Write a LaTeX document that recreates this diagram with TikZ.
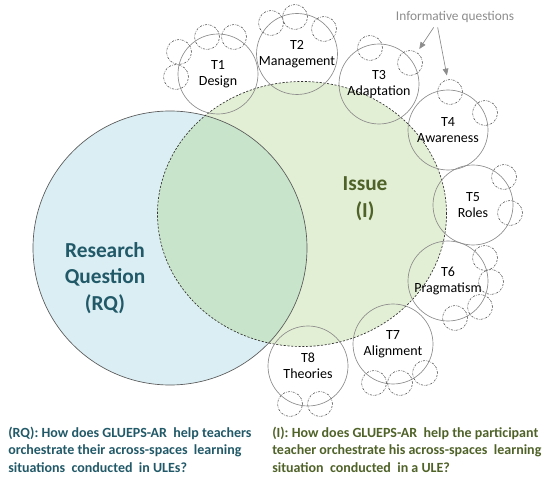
\documentclass[tikz,border=0pt]{standalone}
\usepackage{fontspec}
\setmainfont{Carlito}
\usetikzlibrary{arrows.meta,positioning,shapes.geometric}
\definecolor{rqfill}{HTML}{DAEEF3}
\definecolor{issuefill}{HTML}{E3EFD5}
\definecolor{bothfill}{HTML}{C8E4CA}
\definecolor{rqink}{HTML}{215968}
\definecolor{issueink}{HTML}{4F6228}
\definecolor{ringgray}{HTML}{8C8C8C}
\definecolor{dashgray}{HTML}{5A5A5A}
\definecolor{notegray}{HTML}{8C8C8C}
\tikzset{
  rqdisc/.style={circle,fill=rqfill,minimum size=205.5pt,inner sep=0pt},
  issuedisc/.style={ellipse,fill=issuefill,minimum width=216.75pt,
                    minimum height=198.75pt,inner sep=0pt},
  rqring/.style={circle,draw=black!65,line width=0.5pt,minimum size=205.5pt,
                 inner sep=0pt},
  issuering/.style={ellipse,draw=black!80,line width=0.5pt,
                    dash pattern=on 1.6pt off 1.2pt,minimum width=216.75pt,
                    minimum height=198.75pt,inner sep=0pt},
  biglabel/.style={align=center,font=\fontsize{16}{20}\selectfont\bfseries},
  topic/.style={circle,draw=ringgray,line width=0.5pt,minimum size=60pt,
                inner sep=0pt,align=center,
                font=\fontsize{10.5}{12}\selectfont},
  infoq/.style={circle,draw=dashgray,line width=0.45pt,minimum size=18.75pt,
                inner sep=0pt,dash pattern=on 1.5pt off 0.9pt on 0.4pt off 0.9pt},
  infoarr/.style={-{Triangle[length=1.8mm,width=1.5mm]},line width=0.5pt,
                  draw=notegray,shorten >=3pt},
  question/.style={anchor=north west,align=left,inner sep=0pt,
                   font=\fontsize{10.5}{12.9}\selectfont\bfseries}
}

\begin{document}
\begin{tikzpicture}[x=0.75pt,y=-0.75pt]
  \path[use as bounding box] (0,0) rectangle (542,477);
  % discs
  \node[rqdisc] (rq) at (170,248) {};
  \node[issuedisc] (issue) at (302,214) {};
  \begin{scope}
    \clip (rq.center) circle[radius=137];
    \fill[bothfill] (issue.center) ellipse[x radius=144.5,y radius=132.5];
  \end{scope}
  \node[rqring] (rqedge) at (rq) {};
  \node[issuering] (issueedge) at (issue) {};

  \node[biglabel,text=rqink] (rqlabel) at (105,278)
    {Research\\Question\\(RQ)};
  \node[biglabel,text=issueink] (issuelabel) at (365,199)
    {Issue\\(I)};

  % topics
  \node[topic] (t1) at (218,74) {T1\\Design};
  \node[topic] (t2) at (297,54) {T2\\Management};
  \node[topic] (t3) at (379,84) {T3\\Adaptation};
  \node[topic] (t4) at (448,130) {T4\\Awareness};
  \node[topic] (t5) at (473,205) {T5\\Roles};
  \node[topic] (t6) at (448,281) {T6\\Pragmatism};
  \node[topic] (t7) at (393,344) {T7\\Alignment};
  \node[topic] (t8) at (308,366) {T8\\Theories};

  % informative questions
  \foreach \qx/\qy [count=\i] in {207/37,234/37,179/52,176/77,
      271/23,295/17,324/29,370/48,410/63,450/92,485/113,
      504/177,510/213,485/258,491/282,480/307,455/318,
      374/383,400/383,425/373,290/404,320/404}
    \node[infoq] (q\i) at (\qx,\qy) {};

  \node[text=notegray,font=\fontsize{10}{12}\selectfont] (info) at (455,17)
    {Informative questions};
  \draw[infoarr] ([xshift=-16pt]info.south) -- (q9);
  \draw[infoarr] ([xshift=-13pt]info.south) -- (q10);

  % questions
  \node[question,text=rqink] (rqtext) at (8,427)
    {(RQ): How does GLUEPS-AR\ \ help teachers\\
     orchestrate their across-spaces\ \ learning\\
     situations\ \ conducted\ \ in ULEs?};
  \node[question,text=issueink] (issuetext) at (272,427)
    {(I): How does GLUEPS-AR\ \ help the participant\\
     teacher orchestrate his across-spaces\ \ learning\\
     situation\ \ conducted\ \ in a ULE?};
\end{tikzpicture}
\end{document}
